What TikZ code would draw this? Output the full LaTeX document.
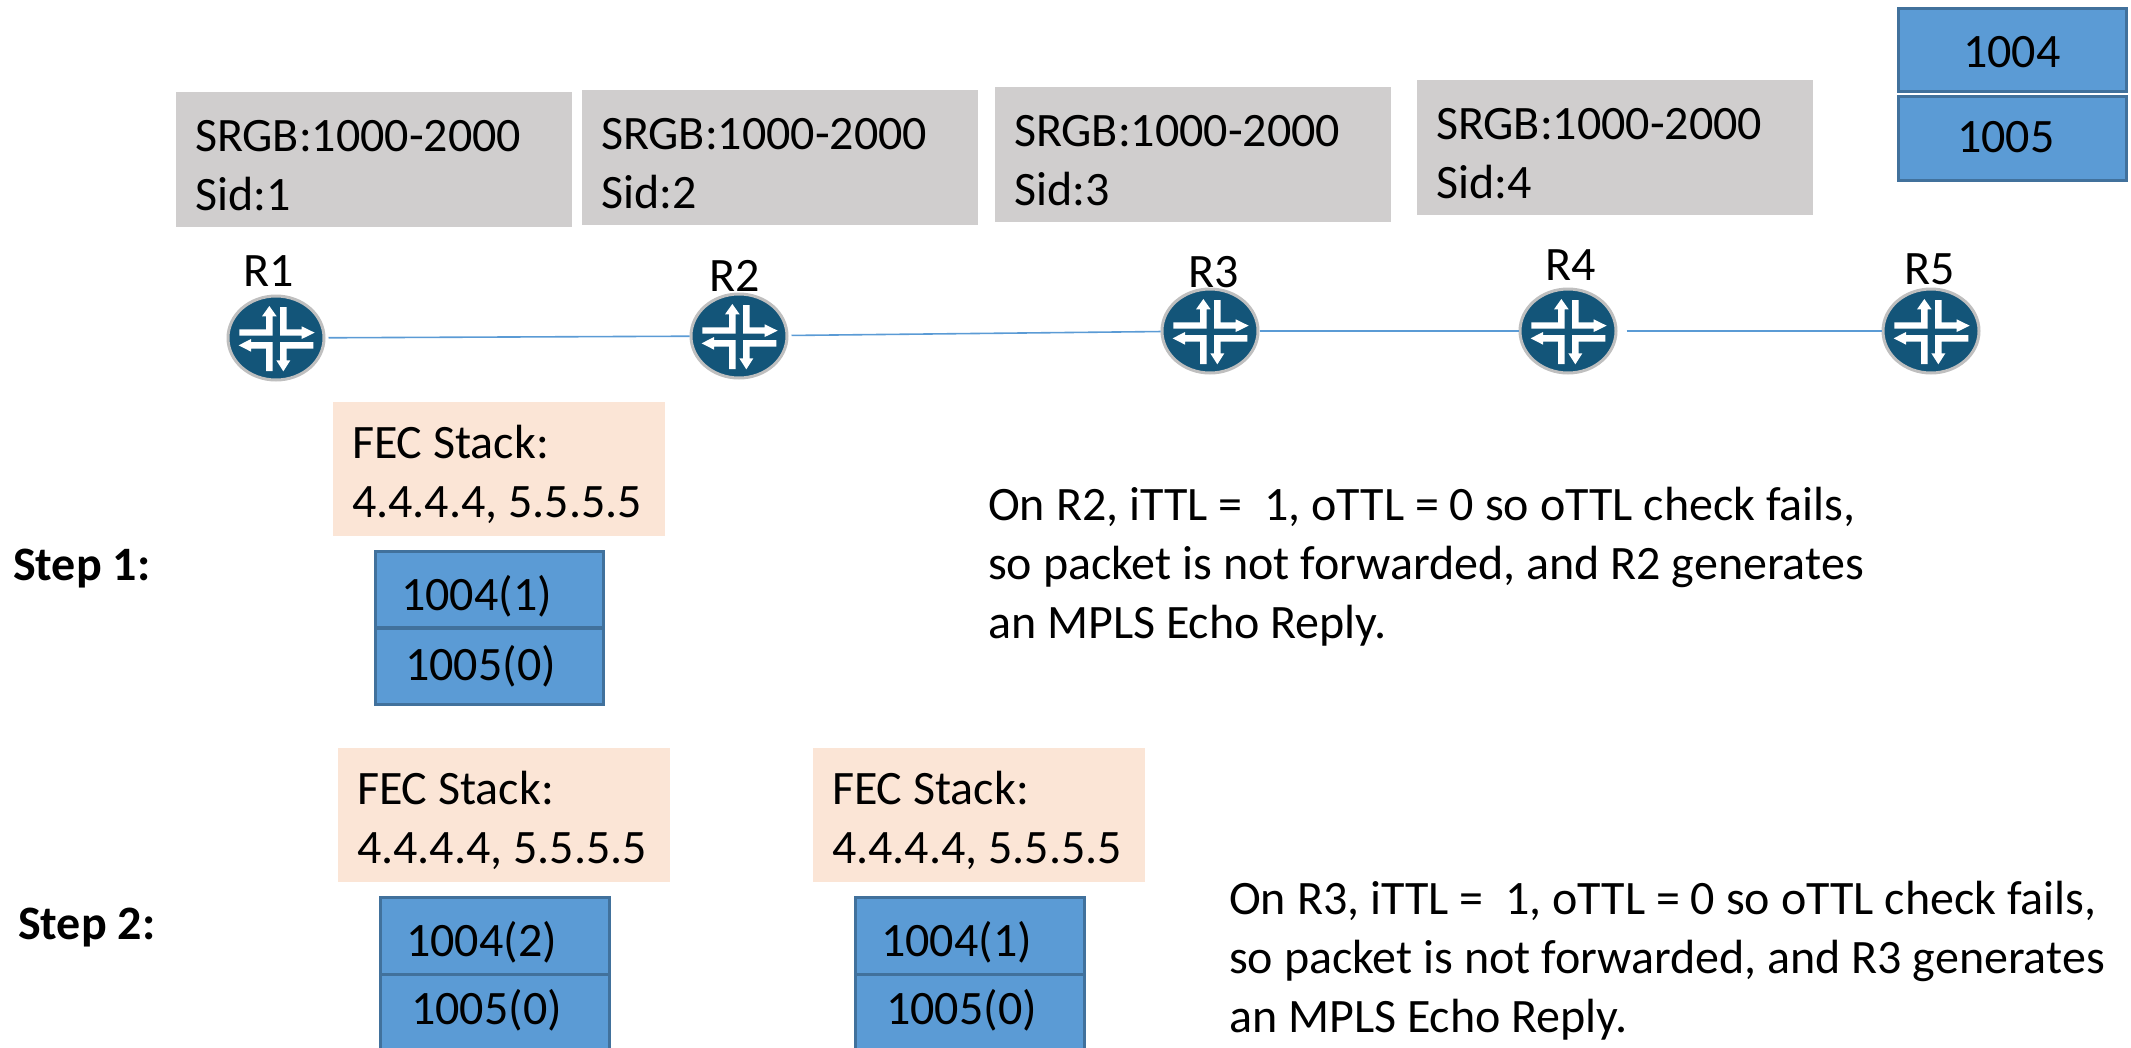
\documentclass[tikz,border=0pt]{standalone}
\usepackage{fontspec}
\setmainfont{Carlito}
\usetikzlibrary{shapes.geometric}
\definecolor{stackblue}{HTML}{5B9BD5}
\definecolor{stackedge}{HTML}{41719C}
\definecolor{sidgrey}{HTML}{D0CECE}
\definecolor{fecpeach}{HTML}{FBE5D6}
\definecolor{routerblue}{HTML}{135579}
\definecolor{routerring}{HTML}{BFBFBF}
\tikzset{
  big/.style={font=\fontsize{48}{59}\selectfont},
  panel/.style={big,draw=none,anchor=north west,rectangle,outer sep=0pt,inner sep=0pt,align=flush left,execute at begin node={\rule{0pt}{44pt}}},
  sidbox/.style={panel,fill=sidgrey,minimum width=396pt,minimum height=135pt,text width=358pt},
  fecbox/.style={panel,fill=fecpeach,minimum width=332pt,minimum height=134pt,text width=294pt},
  cell/.style={rectangle,anchor=north west,fill=stackblue,draw=stackedge,line width=3pt,outer sep=0pt,inner sep=0pt},
  celltext/.style={big,anchor=base west,inner sep=0pt},
  routernode/.style={ellipse,fill=routerblue,draw=routerring,line width=3pt,minimum width=96pt,minimum height=84pt,inner sep=0pt},
  routerlabel/.style={font=\fontsize{48}{50}\selectfont,anchor=base,inner sep=0pt},
  link/.style={draw=stackblue,line width=1.6pt},
  note/.style={font=\fontsize{48}{59}\selectfont,anchor=north west,align=left,inner sep=0pt},
  steplabel/.style={font=\fontsize{48}{50}\selectfont\bfseries,anchor=base west,inner sep=0pt}
}
\newcommand{\routericon}[1]{%
  \begin{scope}[shift={(#1)},x=0.3333pt,y=-0.3333pt]
    \fill[white] (-110,-26) -- (-30,-26) -- (-30,-65) -- (-42,-65) -- (-20,-96) -- (2,-65) -- (-10,-65) -- (-10,-7) -- (-110,-7) -- cycle;
    \fill[white] (12,-93) -- (32,-93) -- (32,-26) -- (77,-26) -- (77,-35) -- (116,-16) -- (77,3) -- (77,-7) -- (12,-7) -- cycle;
    \fill[white] (-10,12) -- (-75,12) -- (-75,3) -- (-112,22) -- (-75,41) -- (-75,32) -- (-30,32) -- (-30,99) -- (-10,99) -- cycle;
    \fill[white] (12,12) -- (112,12) -- (112,32) -- (32,32) -- (32,67) -- (43,67) -- (22,100) -- (1,67) -- (12,67) -- cycle;
  \end{scope}}
\begin{document}
\begin{tikzpicture}[x=1pt,y=-1pt]
\useasboundingbox (0,0) rectangle (2131,1047);
\clip (0,0) rectangle (2131,1047);
% SRGB panels
\node[sidbox] (s1) at (176,92) {SRGB:1000-2000\\Sid:1};
\node[sidbox] (s2) at (582,90) {SRGB:1000-2000\\Sid:2};
\node[sidbox] (s3) at (995,87) {SRGB:1000-2000\\Sid:3};
\node[sidbox] (s4) at (1417,80) {SRGB:1000-2000\\Sid:4};
% top stack
\node[cell,minimum width=228pt,minimum height=83pt] (t1) at (1898.5,8.5) {};
\node[cell,minimum width=228pt,minimum height=84pt] (t2) at (1898.5,96.5) {};
\node[celltext] (t1t) at (1963,67) {1004};
\node[celltext] (t2t) at (1957,152) {1005};
% routers
\node[routernode] (r1) at (276,338) {};
\node[routernode] (r2) at (739,336) {};
\node[routernode] (r3) at (1210,331) {};
\node[routernode] (r4) at (1568,331) {};
\node[routernode] (r5) at (1931,331) {};
\routericon{r1.center}
\routericon{r2.center}
\routericon{r3.center}
\routericon{r4.center}
\routericon{r5.center}
\draw[link,shorten <=3pt] (r1) -- (r2);
\draw[link,shorten <=3pt] (r2) -- (r3);
\draw[link] (r3) -- (r4);
\draw[link,shorten <=9pt] (r4) -- (r5);
\node[routerlabel] (l1) at (269,286) {R1};
\node[routerlabel] (l2) at (735,291) {R2};
\node[routerlabel] (l3) at (1214,287) {R3};
\node[routerlabel] (l4) at (1571,280) {R4};
\node[routerlabel] (l5) at (1930,284) {R5};
% step 1
\node[fecbox] (f1) at (333,402) {FEC Stack:\\4.4.4.4, 5.5.5.5};
\node[cell,minimum width=228pt,minimum height=76pt] (a1) at (375,551) {};
\node[cell,minimum width=228pt,minimum height=76pt] (a2) at (375,628) {};
\node[celltext] at (401,610) {1004(1)};
\node[celltext] at (405,680) {1005(0)};
\node[steplabel] (st1) at (13,580) {Step 1:};
\node[note] (n1) at (988,487) {On R2, iTTL = \ 1, oTTL = 0 so oTTL check fails,\\so packet is not forwarded, and R2 generates\\an MPLS Echo Reply.};
% step 2
\node[fecbox] (f2) at (338,748) {FEC Stack:\\4.4.4.4, 5.5.5.5};
\node[fecbox] (f3) at (813,748) {FEC Stack:\\4.4.4.4, 5.5.5.5};
\node[cell,minimum width=229pt,minimum height=77pt] (b1) at (380,897) {};
\node[cell,minimum width=229pt,minimum height=90pt] (b2) at (380,974) {};
\node[cell,minimum width=229pt,minimum height=77pt] (c1) at (855,897) {};
\node[cell,minimum width=229pt,minimum height=90pt] (c2) at (855,974) {};
\node[celltext] at (406,956) {1004(2)};
\node[celltext] at (411,1024) {1005(0)};
\node[celltext] at (881,956) {1004(1)};
\node[celltext] at (886,1024) {1005(0)};
\node[steplabel] (st2) at (18,939) {Step 2:};
\node[note] (n2) at (1229,881) {On R3, iTTL = \ 1, oTTL = 0 so oTTL check fails,\\so packet is not forwarded, and R3 generates\\an MPLS Echo Reply.};
\end{tikzpicture}
\end{document}
